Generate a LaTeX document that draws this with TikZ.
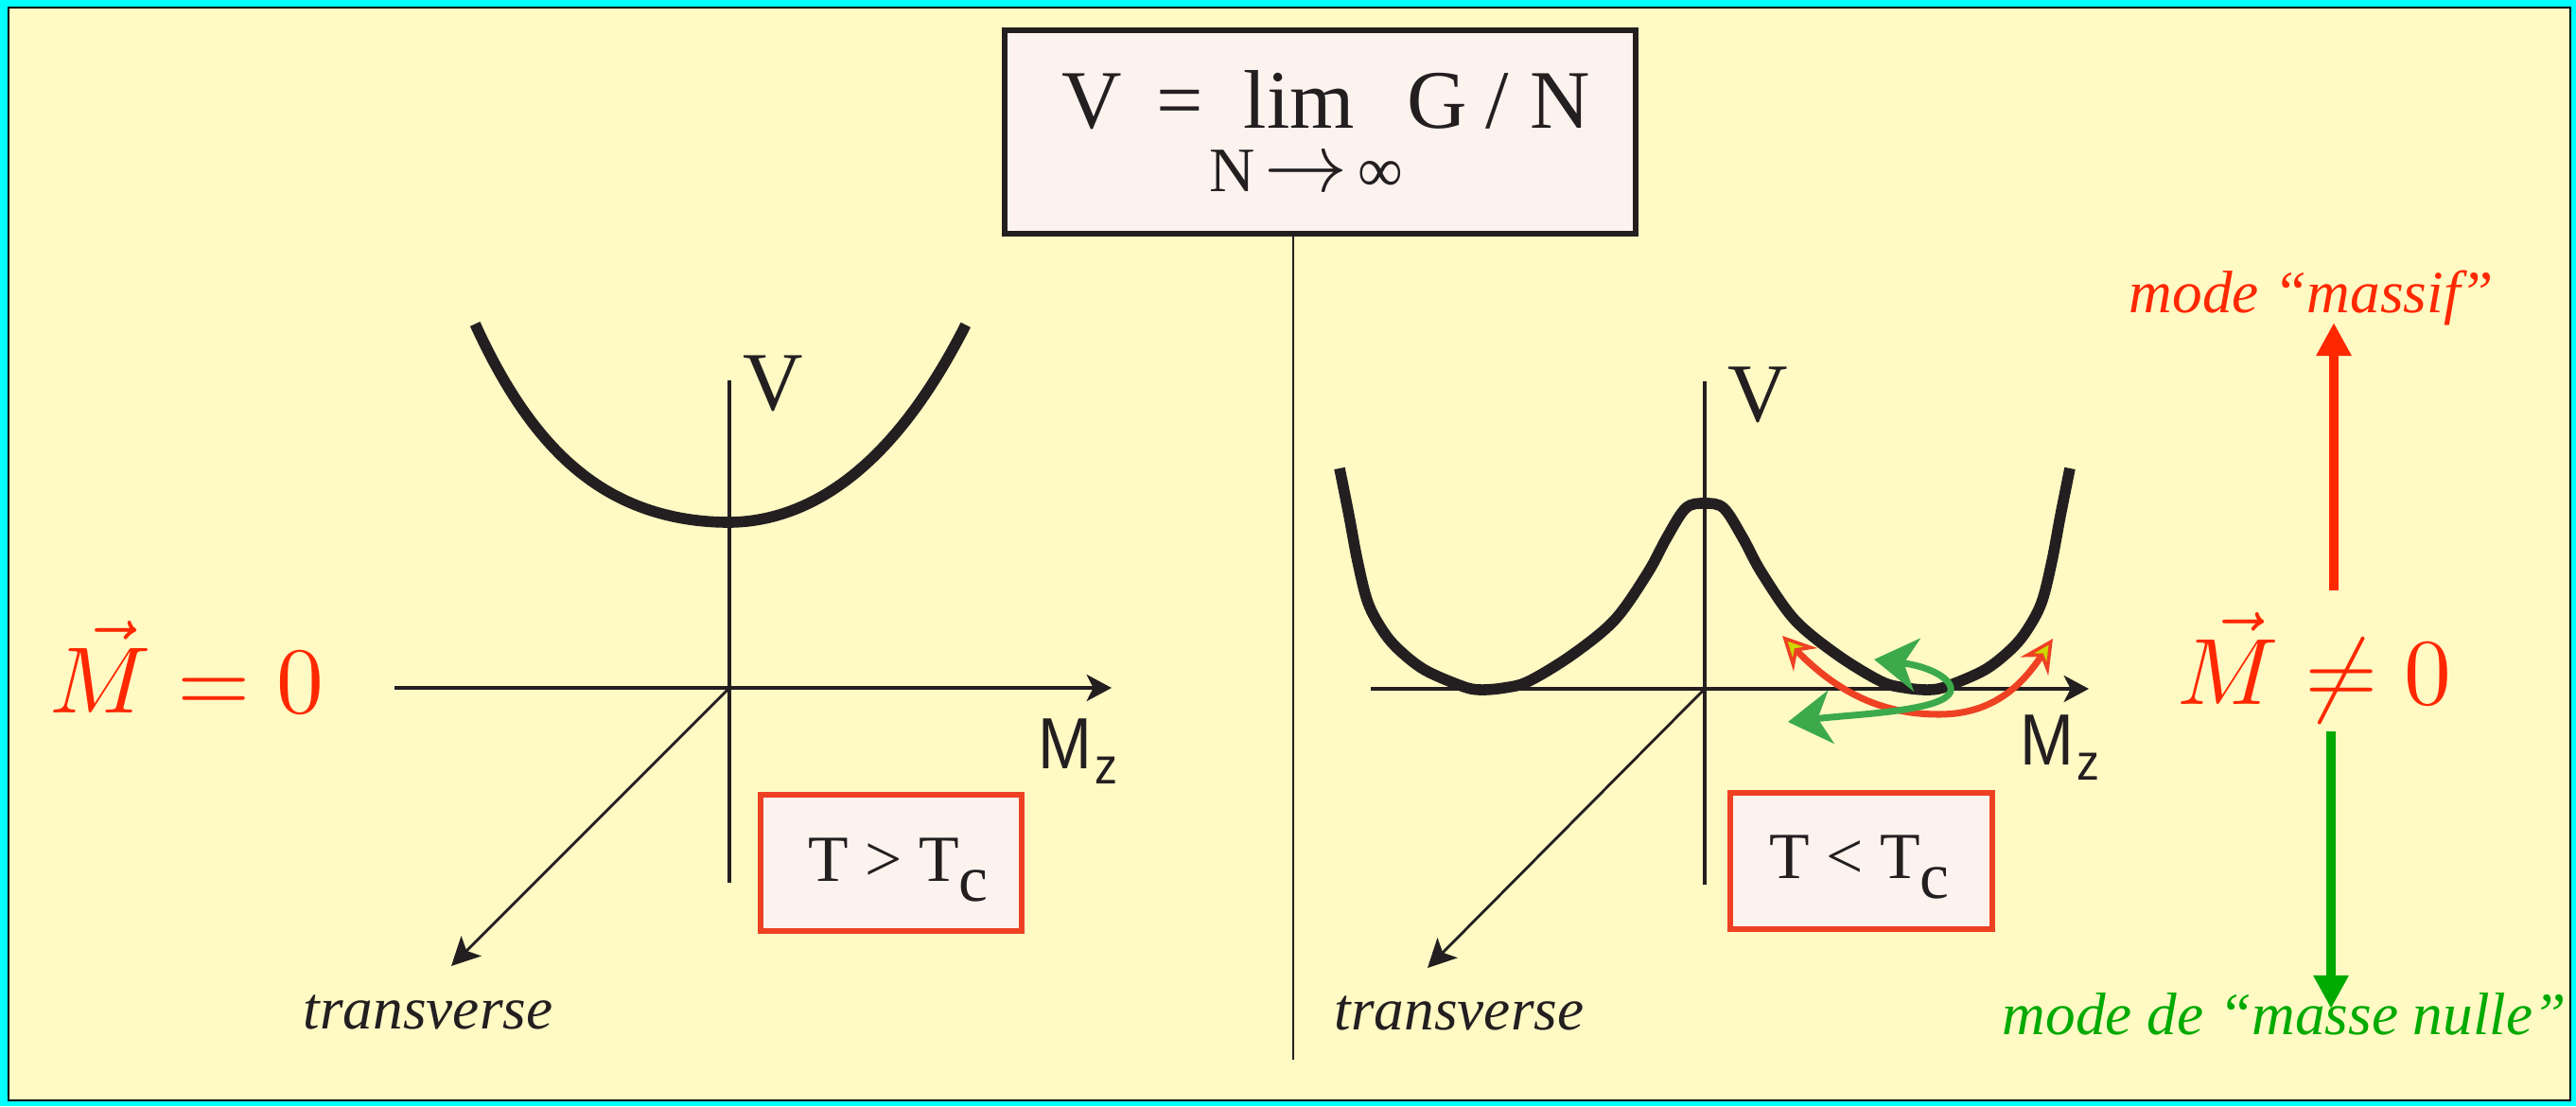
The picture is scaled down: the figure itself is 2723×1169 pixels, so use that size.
\documentclass[tikz,border=0pt]{standalone}
\usepackage{graphicx}
\usepackage{fontspec}
\setmainfont{Liberation Serif}
\newfontfamily\sansf{Liberation Sans}
\usetikzlibrary{arrows.meta}
\definecolor{bgyellow}{RGB}{255,249,196}
\definecolor{cyanbg}{RGB}{0,255,255}
\definecolor{boxfill}{RGB}{252,243,238}
\definecolor{ink}{RGB}{35,31,32}
\definecolor{boxred}{RGB}{238,65,35}
\definecolor{textred}{RGB}{255,40,0}
\definecolor{textgreen}{RGB}{0,170,0}
\definecolor{curvegreen}{RGB}{60,170,75}
\definecolor{tipyellow}{RGB}{205,215,0}
\begin{document}
\begin{tikzpicture}[x=0.01cm,y=-0.01cm,
  txt/.style={inner sep=0pt, anchor=base west, text=ink},
  axisline/.style={draw=ink, line width=0.9pt},
  axisarrow/.style={axisline, -{Stealth[length=7.5pt,width=8pt,inset=2pt]}},
  transarrow/.style={draw=ink, line width=0.8pt, -{Stealth[length=8.5pt,width=8.5pt,inset=2pt]}},
  potential/.style={draw=ink, line width=3.3pt},
  tempbox/.style={draw=boxred, fill=boxfill, line width=1.7pt, inner sep=0pt, minimum width=2.76cm, minimum height=1.43cm},
  bigfont/.style={font=\fontsize{25}{30}\selectfont},
  itfont/.style={font=\fontsize{18}{22}\selectfont\itshape},
  tfont/.style={font=\fontsize{19.8}{24}\selectfont},
  redcurve/.style={draw=boxred, line width=2pt,
    {Stealth[length=10pt,width=10pt,inset=3.5pt,fill=tipyellow,line width=1pt]}-{Stealth[length=10pt,width=10pt,inset=3.5pt,fill=tipyellow,line width=1pt]}},
  greencurve/.style={draw=curvegreen, line width=2pt,
    {Stealth[length=13pt,width=16pt,inset=4pt]}-{Stealth[length=13pt,width=16pt,inset=4pt]}},
  massarrow/.style={line width=2.6pt, -{Triangle[length=10pt,width=10pt]}}
]
\useasboundingbox (0,0) rectangle (2723,1169);
\fill[cyanbg] (0,0) rectangle (2723,1169);
\draw[fill=bgyellow, draw=black, line width=0.8pt] (9,8) rectangle (2717,1163);

% top box
\node[draw=ink, fill=boxfill, line width=1.6pt, inner sep=0pt, minimum width=6.67cm, minimum height=2.15cm] (limbox) at (1395.5,139.5) {};
\node[txt, bigfont] (limtop) at (1122,135) {V\hspace{0.36cm}=\hspace{0.43cm}lim\hspace{0.55cm}G\hspace{0.2cm}/\hspace{0.22cm}N};
\node[txt, font=\fontsize{19}{23}\selectfont] (limbot) at (1278,202) {N\hspace{0.1cm}\scalebox{1.45}{$\to$}\hspace{0.1cm}∞};
\coordinate (divend) at (1367,1120);
\draw[draw=ink, line width=0.8pt] (divend |- limbox.south) -- (divend);

% left panel
\coordinate (O1) at (771,727);
\coordinate (L1w) at (417,727);
\coordinate (L1e) at (1175,727);
\coordinate (L1n) at (771,402);
\coordinate (L1s) at (771,933);
\coordinate (L1t) at (477,1021);
\draw[axisarrow] (L1w) -- (L1e);
\draw[axisline] (L1n) -- (L1s);
\draw[transarrow] (O1) -- (L1t);
\draw[potential] plot[domain=0:1,samples=60] ({770-268*\x},{552-125*\x*\x-85*\x*\x*\x*\x});
\draw[potential] plot[domain=0:1,samples=60] ({770+251*\x},{552-170.6*\x*\x-38.4*\x*\x*\x*\x});
\node[txt, bigfont] (VL) at (785,433) {V};
\node[txt] (MzL) at (1097,812) {\sansf\fontsize{21.8}{26}\selectfont\scalebox{0.89}[1]{M\hspace{0.03cm}\raisebox{-0.16cm}{\fontsize{15.3}{18}\selectfont z}}};
\node[tempbox] (boxL) at (942,912) {};
\node[txt, tfont] (tL) at (854,931) {T > T\raisebox{-0.21cm}{c}};
\node[txt, itfont] (trL) at (320,1087) {transverse};
\node[txt, text=textred] (Mzero) at (52,753) {\scalebox{2.83}{$\vec{M}=0$}};

% right panel
\coordinate (O2) at (1802,728);
\coordinate (R1w) at (1449,728);
\coordinate (R1e) at (2208,728);
\coordinate (R1n) at (1802,403);
\coordinate (R1s) at (1802,935);
\coordinate (R1t) at (1509,1023);
\draw[axisarrow] (R1w) -- (R1e);
\draw[axisline] (R1n) -- (R1s);
\draw[transarrow] (O2) -- (R1t);
\draw[potential] plot[smooth, tension=0.55] coordinates {(1416,495) (1426,545) (1435,593) (1446,637) (1462,667) (1479,687) (1506,708) (1545,725) (1564,729) (1590,727) (1616,720) (1662,692) (1707,655) (1742,605) (1762,568) (1782,537) (1802,532) (1822,537) (1842,568) (1862,605) (1897,655) (1942,692) (1988,720) (2014,727) (2040,729) (2059,725) (2098,708) (2125,687) (2142,667) (2158,637) (2169,593) (2178,545) (2188,495)};
\coordinate (rA) at (1884,672);
\coordinate (rB) at (2170,675);
\draw[redcurve] (rA) .. controls (1950,740) and (2000,755) .. (2050,755) .. controls (2110,755) and (2140,720) .. (rB);
\coordinate (gA) at (1981,697);
\coordinate (gB) at (1890,763);
\draw[greencurve] (gA) .. controls (2045,705) and (2070,722) .. (2060,734) .. controls (2045,752) and (1960,755) .. (gB);
\node[txt, bigfont] (VR) at (1826,445) {V};
\node[txt] (MzR) at (2135,808) {\sansf\fontsize{21.8}{26}\selectfont\scalebox{0.89}[1]{M\hspace{0.03cm}\raisebox{-0.16cm}{\fontsize{15.3}{18}\selectfont z}}};
\node[tempbox] (boxR) at (1967.5,910) {};
\node[txt, tfont] (tR) at (1870,928) {T < T\raisebox{-0.21cm}{c}};
\node[txt, itfont] (trR) at (1410,1088) {transverse};

% right column
\node[txt, text=textred] (Mnz) at (2301,744) {\scalebox{2.83}{$\vec{M}\neq0$}};
\node[txt, itfont, text=textred] (massif) at (2250,330) {mode “massif”};
\node[txt, itfont, text=textgreen] (nulle) at (2116,1093) {mode de “masse nulle”};
\coordinate (upS) at (2467,624);
\coordinate (upE) at (2467,341);
\coordinate (dnS) at (2464,773);
\coordinate (dnE) at (2464,1066);
\draw[massarrow, textred] (upS) -- (upE);
\draw[massarrow, textgreen] (dnS) -- (dnE);
\end{tikzpicture}
\end{document}
